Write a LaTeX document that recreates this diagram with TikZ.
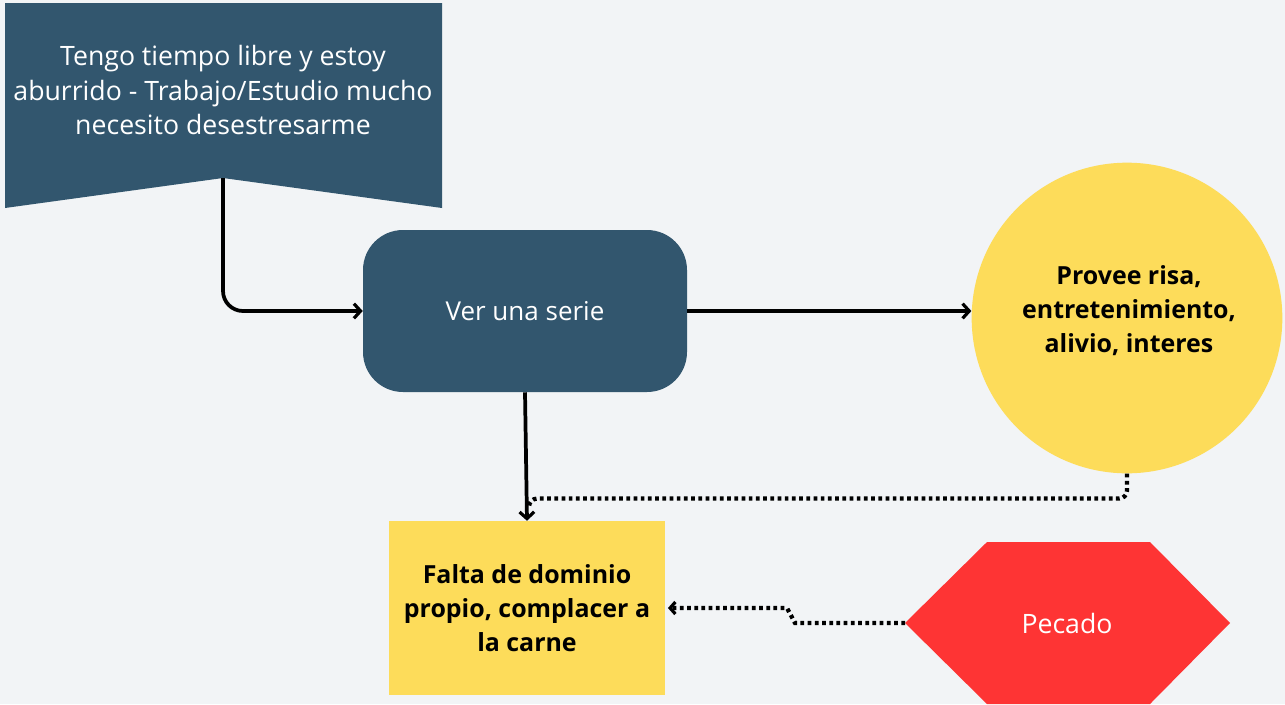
\documentclass[tikz,border=0pt]{standalone}
\usepackage{fontspec}
\setmainfont{Open Sans}
\usetikzlibrary{arrows.meta}
\definecolor{pizarra}{RGB}{50,86,110}
\definecolor{amarillo}{RGB}{253,220,90}
\definecolor{rojo}{RGB}{254,52,52}
\definecolor{fondo}{RGB}{242,244,246}

\begin{document}
\begin{tikzpicture}[x=0.75pt,y=0.75pt,yscale=-1,xscale=1,
  flecha/.style={draw=black,line width=2.8pt,-{Straight Barb[length=5pt,width=11pt,line width=2.4pt]}},
  puntos/.style={draw=black,line width=3.2pt,dash pattern=on 2.8pt off 2.6pt},
  textoclaro/.style={text=white,align=center,font=\fontsize{19.5}{26}\selectfont},
  textonegro/.style={text=black,align=center,font=\bfseries\fontsize{18.7}{25.5}\selectfont}]
%set diagram to the size of the reference
\useasboundingbox (0,0) rectangle (1285,704);
\fill [fondo] (0,0) rectangle (1285,704);

%Shape: Banner
\fill [pizarra] (5,3) -- (442,3) -- (442,208) -- (223,178) -- (5,208) -- cycle ;
\coordinate (pico) at (223,178);
\node [textoclaro,font=\fontsize{20}{26}\selectfont] (tiempo) at (223,90) {Tengo tiempo libre y estoy\\aburrido - Trabajo/Estudio mucho\\necesito desestresarme};

%Shape: Rounded Rect
\node [fill=pizarra,rounded corners=30pt,minimum width=243pt,minimum height=121.5pt,textoclaro] (serie) at (525,311) {Ver una serie};

%Shape: Circle
\node [fill=amarillo,circle,minimum size=233pt] (provee) at (1127,318) {};
\node [textonegro] (proveetexto) at (1129,311) {Provee risa,\\entretenimiento,\\alivio, interes};

%Shape: Rectangle
\node [fill=amarillo,minimum width=207pt,minimum height=130.5pt,textonegro] (falta) at (527,608) {Falta de dominio\\propio, complacer a\\la carne};

%Shape: Hexagon
\fill [rojo] (905,623) -- (987,542) -- (1150,542) -- (1230,623) -- (1150,704) -- (987,704) -- cycle ;
\coordinate (hexoeste) at (905,623);
\node [textoclaro,font=\fontsize{20}{24}\selectfont] (pecado) at (1067,623) {Pecado};

%Connectors
\draw [flecha,rounded corners=15pt] (pico) |- (serie.west) ;
\draw [flecha] (serie.east) -- (serie.east -| provee.west) ;
\draw [flecha] (serie.south) -- (falta.north) ;
\coordinate (junta) at (529,507);
\draw [puntos,rounded corners=6pt] (provee.south) -- ++(0,25) -| (junta) ;
\draw [puntos,-{Straight Barb[length=4pt,width=9pt,line width=2.4pt]}] (hexoeste) -- ++(-110,0) -- ++(-8,-15) -- ([xshift=2pt]falta.east) ;

\end{tikzpicture}
\end{document}
